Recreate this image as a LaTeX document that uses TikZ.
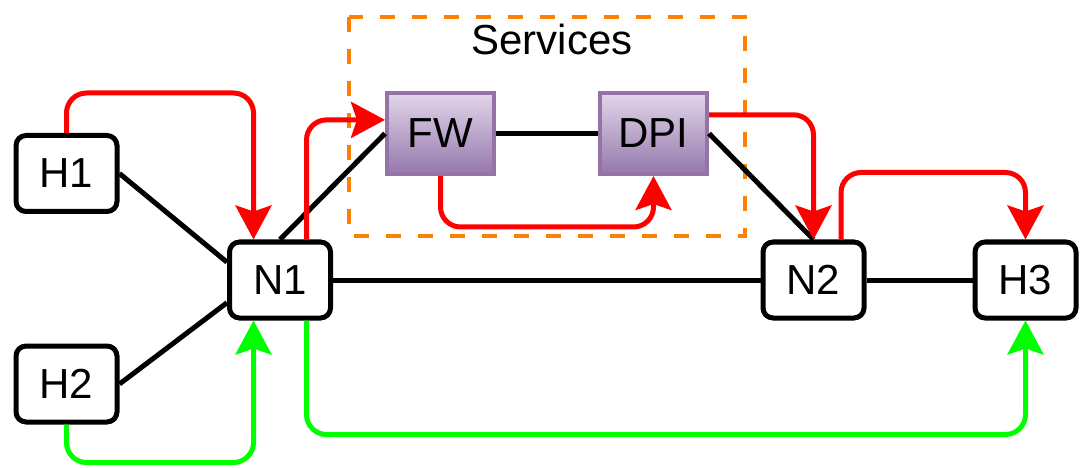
\documentclass[tikz,border=0pt]{standalone}
\usepackage{fontspec}
\setmainfont{Liberation Sans}
\usetikzlibrary{arrows.meta,calc}

\definecolor{flowred}{HTML}{FF0000}
\definecolor{flowgreen}{HTML}{00FF00}
\definecolor{svcorange}{HTML}{FF8000}
\definecolor{svcborder}{HTML}{9673A6}
\definecolor{svctop}{HTML}{E2D6EA}
\definecolor{svcbottom}{HTML}{9478AB}

\tikzset{
  host/.style={draw=black, line width=5pt, rounded corners=10pt, fill=white,
    minimum width=101pt, minimum height=76pt, inner sep=0pt,
    font=\fontsize{42}{42}\selectfont},
  service/.style={draw=svcborder, line width=4pt,
    top color=svctop, bottom color=svcbottom,
    minimum width=107pt, minimum height=81pt, inner sep=0pt,
    font=\fontsize{42}{42}\selectfont},
  link/.style={draw=black, line width=5pt},
  flowtip/.tip={Stealth[length=34pt, width=36pt, inset=6pt]},
  flow/.style={line width=5pt, rounded corners=20pt, -flowtip},
  redflow/.style={flow, draw=flowred, fill=none, flowred},
  greenflow/.style={flow, draw=flowgreen, fill=none, flowgreen},
  group/.style={draw=svcorange, line width=4.5pt, dash pattern=on 15pt off 17pt},
}

\begin{document}
\begin{tikzpicture}[x=1pt, y=-1pt]
  \useasboundingbox (0,0) rectangle (1080,468);

  % service group frame
  \draw[group] (349,17) rectangle (745,236);
  \node[anchor=base, font=\fontsize{42}{42}\selectfont] (svc) at (552,55) {Services};

  % hosts and switches
  \node[host] (H1) at (66.5,173.5) {H1};
  \node[host] (H2) at (66.5,384) {H2};
  \node[host] (N1) at (280,280) {N1};
  \node[host] (N2) at (813.5,280) {N2};
  \node[host] (H3) at (1025.5,280) {H3};

  % service functions
  \node[service] (FW) at (440.5,133.5) {FW};
  \node[service] (DPI) at (653.5,133.5) {DPI};

  % attachment points on the node borders
  \coordinate (N1tl) at ($(N1.north west)!0.25!(N1.north east)$);
  \coordinate (N1tr) at ($(N1.north west)!0.75!(N1.north east)$);
  \coordinate (N1bl) at ($(N1.south west)!0.25!(N1.south east)$);
  \coordinate (N1br) at ($(N1.south west)!0.75!(N1.south east)$);
  \coordinate (N1wu) at ($(N1.north west)!0.28!(N1.south west)$);
  \coordinate (N1wd) at ($(N1.north west)!0.78!(N1.south west)$);
  \coordinate (N2tr) at ($(N2.north west)!0.76!(N2.north east)$);
  \coordinate (FWin) at ($(FW.north west)!0.34!(FW.south west)$);
  \coordinate (DPIout) at ($(DPI.north east)!0.28!(DPI.south east)$);

  % physical links
  \draw[link] (H1.east) -- (N1wu);
  \draw[link] (H2.east) -- (N1wd);
  \draw[link] (N1.north) -- (FW.west);
  \draw[link] (FW.east) -- (DPI.west);
  \draw[link] (DPI.east) -- (N2.north);
  \draw[link] (N1.east) -- (N2.west);
  \draw[link] (N2.east) -- (H3.west);

  % steered flow through the services
  \draw[redflow] (H1.north) -- ++(0,-40) -| (N1tl);
  \draw[redflow] (N1tr) |- (FWin);
  \draw[redflow] (FW.south) -- ++(0,51) -| (DPI.south);
  \draw[redflow] (DPIout) -| (N2.north);
  \draw[redflow] (N2tr) -- ++(0,-67) -| (H3.north);

  % direct flow
  \draw[greenflow] (H2.south) -- ++(0,38) -| (N1bl);
  \draw[greenflow] (N1br) -- ++(0,114) -| (H3.south);
\end{tikzpicture}
\end{document}
